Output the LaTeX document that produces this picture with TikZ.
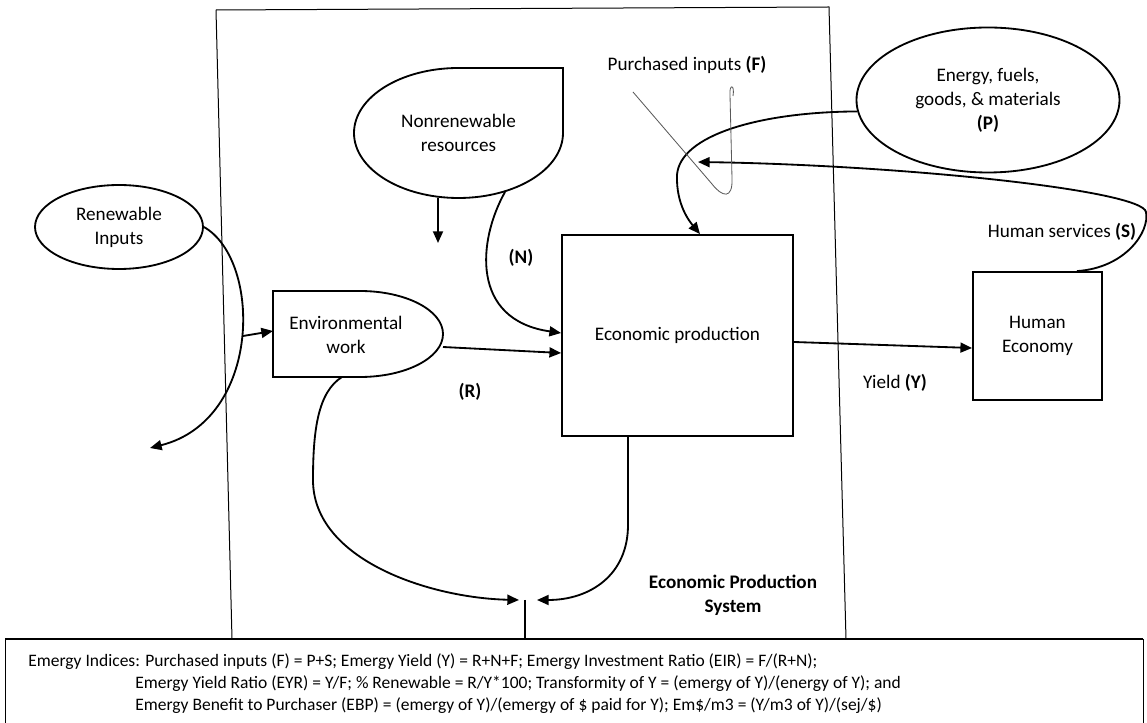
\documentclass[tikz,border=0pt]{standalone}
\usepackage{fontspec}
\setmainfont{Carlito}
\usetikzlibrary{arrows.meta,shapes.geometric}
\tikzset{
  flux/.style={line width=1.1pt,-{Triangle[length=7pt,width=6pt]}},
  trait/.style={line width=1.1pt},
  cadre/.style={line width=0.6pt},
  renvoi/.style={line width=0.5pt,gray!70!black},
  boite/.style={draw,line width=1.1pt,align=center,inner sep=0pt},
  ovale/.style={draw,ellipse,line width=1.1pt,align=center,inner sep=0pt},
  etiq/.style={align=center,inner sep=1pt,outer sep=0pt},
  indice/.style={anchor=base west,inner sep=0pt,font=\fontsize{10.5}{13}\selectfont},
}

\begin{document}
\begin{tikzpicture}[x=0.6pt,y=-0.6pt,font=\fontsize{11.5}{14.5}\selectfont]
    \useasboundingbox (0,0) rectangle (1147,723);
    % Cadre du système
    \draw[cadre] (216,10) -- (829,7) -- (846,639);
    \draw[cadre] (216,10) -- (232,639);
    % Boîte des indices
    \draw[line width=1.2pt] (5,639) -- (1143,639);
    \draw[cadre] (5,639) -- (5,723);
    \draw[cadre] (1143,639) -- (1143,723);
    % Sources
    \node[ovale,minimum width=100.8pt,minimum height=50.4pt] (ren) at (119,227) {Renewable\\Inputs};
    \node[ovale,minimum width=157.8pt,minimum height=87pt] (enr) at (988,100) {Energy, fuels,\\goods, \& materials\\\textbf{(P)}};
    \node[etiq,minimum width=125.4pt,minimum height=78pt] (nonr) at (458.5,133) {Nonrenewable\\resources};
    \draw[trait] (nonr.north) -- (nonr.north east) -- (nonr.east) arc[start angle=0,end angle=270,x radius=104.5,y radius=65] -- cycle;
    % Travail environnemental
    \node[etiq,minimum width=102pt,minimum height=51.6pt] (envw) at (358,334) {};
    \draw[trait] (envw.north west) -- ++(87,0) arc[start angle=270,end angle=450,x radius=83,y radius=43] -- (envw.south west) -- cycle;
    \node[etiq] (envwlbl) at (346,335) {Environmental\\work};
    % Production et économie
    \node[boite,minimum width=138.6pt,minimum height=120.6pt] (eco) at (677.5,335.5) {Economic production};
    \node[boite,minimum width=77.4pt,minimum height=76.8pt] (hum) at (1037.5,336) {Human\\Economy};
    % Etiquettes
    \node[etiq] (pf) at (687,65) {Purchased inputs \textbf{(F)}};
    \node[etiq] (lN) at (521,258) {\textbf{(N)}};
    \node[etiq] (lR) at (470,392) {\textbf{(R)}};
    \node[etiq] (lY) at (895,383) {Yield \textbf{(Y)}};
    \node[etiq] (lS) at (1062,232) {Human services \textbf{(S)}};
    \node[etiq,font=\fontsize{11.5}{14.5}\selectfont\bfseries] (eps) at (733,595) {Economic Production\\System};
    % Points libres
    \coordinate (renout) at (150,448);
    \coordinate (renin) at (243,336);
    \coordinate (nonrout) at (438,243);
    \coordinate (jn) at (525,600);
    \coordinate (jb) at (525,639);
    \coordinate (sin) at (698,162);
    % Flux
    \draw[flux] (ren.east) .. controls (262,260) and (262,420) .. (renout);
    \draw[flux] (renin) -- ([yshift=1.8pt]envw.west);
    \draw[flux] ([xshift=-12.3pt]nonr.south) -- (nonrout);
    \draw[flux] ([xshift=27.9pt,yshift=3.6pt]nonr.south) .. controls (478,240) and (470,320) .. ([yshift=1.5pt]eco.west);
    \draw[flux] ([yshift=-7.8pt]envw.east) -- ([yshift=-10.5pt]eco.west);
    \draw[flux] (enr.185) .. controls (760,112) and (680,135) .. (677,175) .. controls (676,205) and (690,222) .. ([xshift=13.5pt]eco.north);
    \draw[flux] ([xshift=23.7pt]hum.north) .. controls (1125,268) and (1150,232) .. (1146,212) .. controls (1142,190) and (900,165) .. (sin);
    \draw[flux] ([yshift=-3.9pt]eco.east) -- ([yshift=-7.2pt]hum.west);
    \draw[flux] ([xshift=-9.6pt]envw.south) .. controls (318,392) and (313,430) .. (313,480) .. controls (313,560) and (430,598) .. ([xshift=-3.6pt]jn);
    \draw[flux] ([xshift=-29.7pt]eco.south) -- (628,525) .. controls (628,575) and (590,600) .. ([xshift=7.2pt]jn);
    \draw[trait] (jn) -- (jb);
    % Renvoi des intrants achetés
    \draw[renvoi] (633,92) -- (712,184) .. controls (722,197) and (733,200) .. (732,178) -- (730,95) .. controls (729,84) and (735,84) .. (733,96);
    % Indices
    \node[indice] (idx1) at (28,667) {Emergy Indices: Purchased inputs (F) = P+S; Emergy Yield (Y) = R+N+F; Emergy Investment Ratio (EIR) = F/(R+N);};
    \node[indice] (idx2) at (135,689) {Emergy Yield Ratio (EYR) = Y/F; \% Renewable = R/Y*100; Transformity of Y = (emergy of Y)/(energy of Y); and};
    \node[indice] (idx3) at (135,711) {Emergy Benefit to Purchaser (EBP) = (emergy of Y)/(emergy of \$ paid for Y); Em\$/m3 = (Y/m3 of Y)/(sej/\$)};
\end{tikzpicture}
\end{document}
